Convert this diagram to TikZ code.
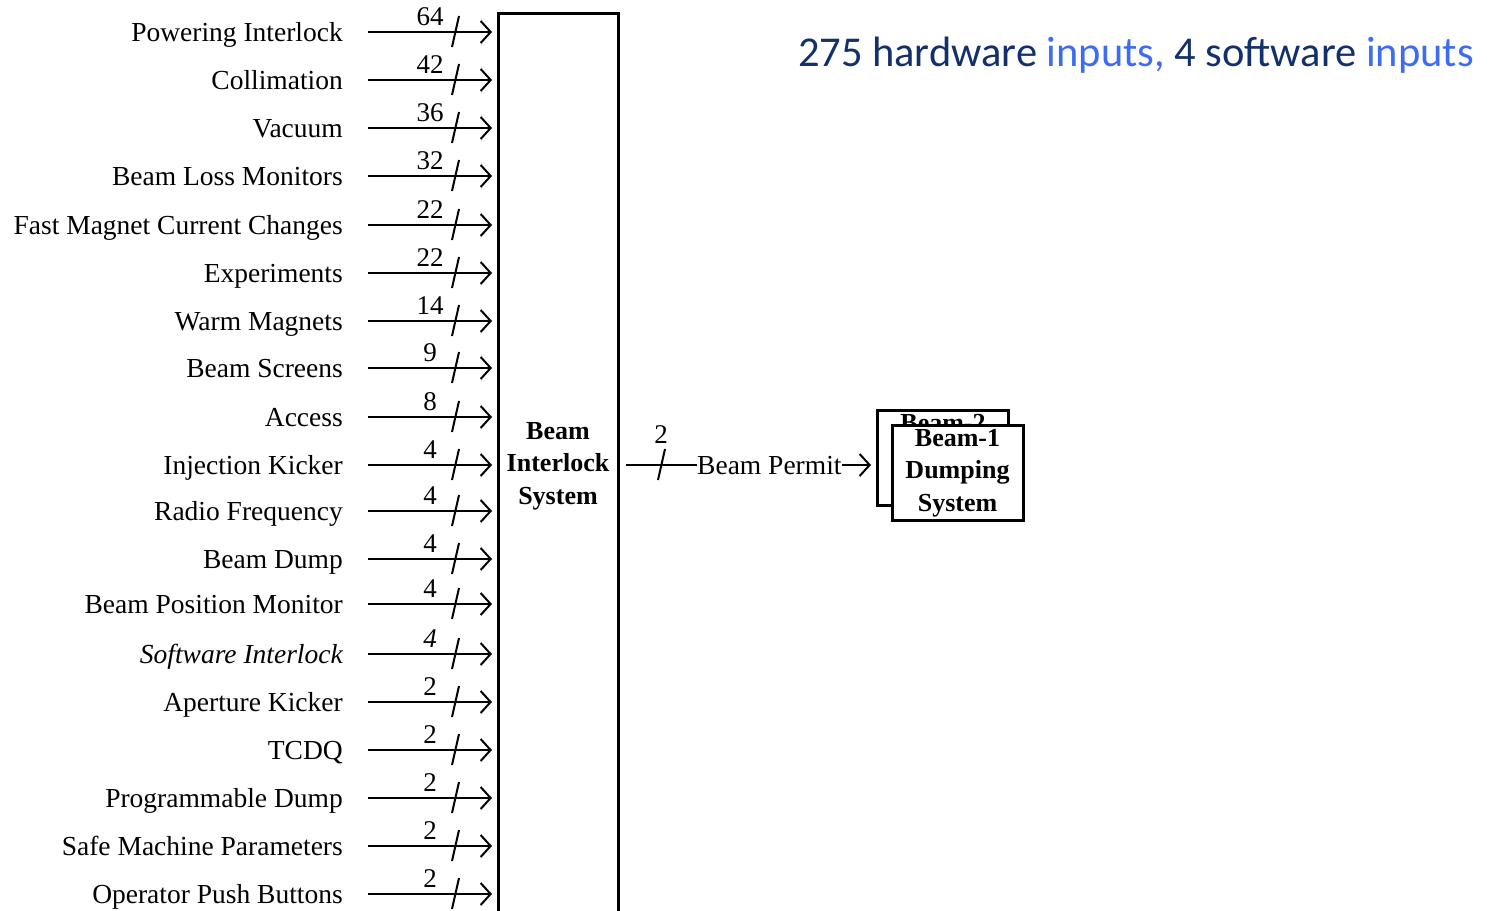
\documentclass[tikz,border=0pt]{standalone}
\usepackage{fontspec}
\setmainfont{Liberation Serif}
\newfontfamily\titlefont{Carlito}
\usepackage{tikz}
\usetikzlibrary{arrows.meta}

\definecolor{titlenavy}{HTML}{13306A}
\definecolor{titleblue}{HTML}{3D6CF2}

\tikzset{
  lbl/.style = {font=\fontsize{27.5}{32}\selectfont, inner sep=0pt},
  cnt/.style = {font=\fontsize{27}{30}\selectfont, inner sep=0pt},
  boldlbl/.style = {font=\fontsize{26}{32.5}\selectfont\bfseries, align=center, inner sep=0pt},
  bus/.style = {draw, line width=2pt, -{Straight Barb[length=10pt,width=22pt,line width=2pt]}},
  wire/.style = {draw, line width=2pt},
  dumpbox/.style = {draw, line width=3pt, fill=white, minimum width=131, minimum height=95, boldlbl}
}

\begin{document}
\begin{tikzpicture}[x=1pt, y=-1pt]
  \clip (0,0) rectangle (1490,910);
  \useasboundingbox (0,0) rectangle (1490,910);

  % inputs
  \foreach \txt/\num/\yy [count=\i] in {
      Powering Interlock/64/32, Collimation/42/80, Vacuum/36/128,
      Beam Loss Monitors/32/176, Fast Magnet Current Changes/22/225,
      Experiments/22/273, Warm Magnets/14/321, Beam Screens/9/368,
      Access/8/417, Injection Kicker/4/465, Radio Frequency/4/511,
      Beam Dump/4/559, Beam Position Monitor/4/604,
      {\itshape Software Interlock}/{\itshape 4}/654,
      Aperture Kicker/2/702, TCDQ/2/750, Programmable Dump/2/798,
      Safe Machine Parameters/2/846, Operator Push Buttons/2/894} {
    \node[lbl, anchor=east] (src\i) at (343,\yy+3) {\strut\txt};
    \coordinate (tail\i) at (368,\yy);
    \coordinate (head\i) at (492,\yy);
    \path[bus] (tail\i) -- (head\i);
    \path[wire] (452,\yy+15) -- (459,\yy-16);
    \node[cnt] (num\i) at (430,\yy-15) {\num};
  }

  % interlock box
  \path[draw, line width=3pt] (498,13) rectangle (618,960);
  \node[boldlbl] (bis) at (558,466) {Beam\\Interlock\\System};

  % output
  \coordinate (out) at (626,465);
  \node[lbl, anchor=west] (permit) at (697,468) {\strut Beam Permit};
  \path[wire] (out) -- (permit.west |- out);
  \path[wire] (658,480) -- (665,449);
  \node[cnt] (outnum) at (661,435) {2};

  \node[dumpbox] (ldsb) at (943,458) {Beam-2\\Dumping\\System};
  \node[dumpbox] (ldsa) at (957.5,473) {Beam-1\\Dumping\\System};
  \path[bus] (permit.east |- out) -- ([xshift=-5pt]ldsb.west |- out);

  % title
  \node[font=\titlefont\fontsize{42.5}{46}\selectfont, anchor=east, inner sep=0pt] (title) at (1474,55)
    {\textcolor{titlenavy}{275 hardware} \textcolor{titleblue}{inputs,} \textcolor{titlenavy}{4 software} \textcolor{titleblue}{inputs}};
\end{tikzpicture}
\end{document}
